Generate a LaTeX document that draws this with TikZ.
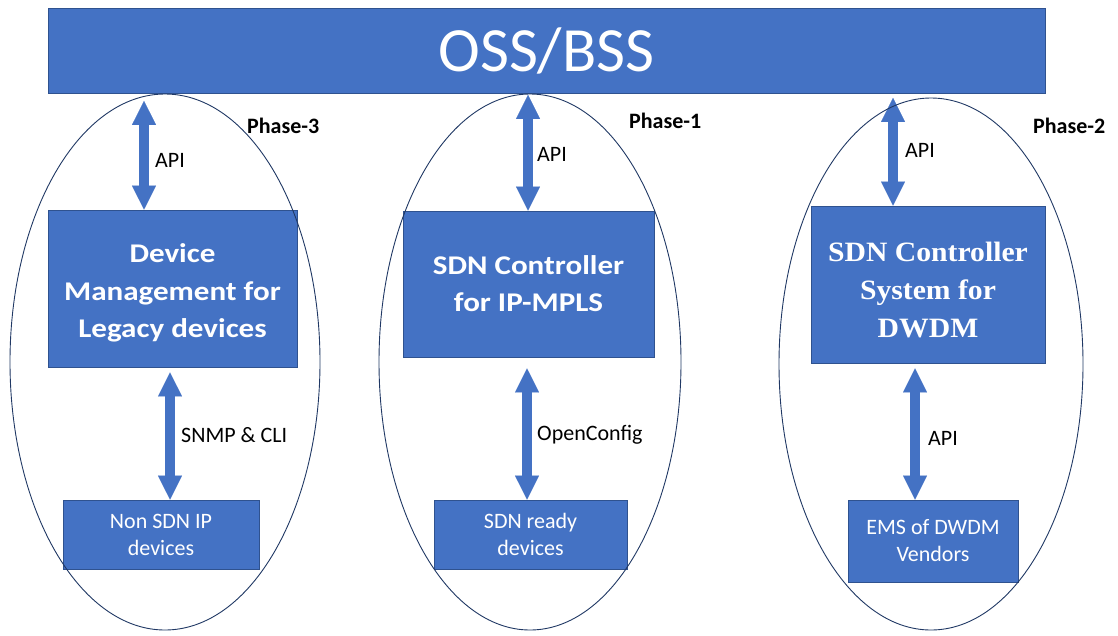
\documentclass[tikz,border=0pt]{standalone}
\usepackage{fontspec}
\setmainfont{Carlito}
\newfontfamily\widesans{Carlito}[FakeStretch=1.15]
\newfontfamily\wideserif{Liberation Serif}[FakeStretch=1.06]
\usetikzlibrary{arrows.meta}
\definecolor{boxblue}{HTML}{4472C4}
\definecolor{boxedge}{HTML}{2F528F}
\definecolor{ringblue}{HTML}{203864}
\newcommand*{\phase}[1]{\textbf{Phase-#1}}
\newcommand*{\lift}[1]{\rule{0pt}{#1}}

\begin{document}
\begin{tikzpicture}[x=1pt, y=-1pt]
        \useasboundingbox (0,0) rectangle (1118,635);

        % blocks
        {\tikzstyle{every node}=[draw=boxedge, fill=boxblue, text=white, align=center, inner sep=0pt, line width=0.8pt]
          \node[minimum width=997pt, minimum height=85pt, font=\fontsize{63}{70}\selectfont] (oss) at (546.5,51) {OSS/BSS};

          \node[minimum width=249pt, minimum height=157pt, font=\widesans\bfseries\fontsize{27}{37.5}\selectfont] (dm) at (172.5,288.5) {\lift{28pt}Device\\Management for\\Legacy devices};
          \node[minimum width=251pt, minimum height=146pt, font=\widesans\bfseries\fontsize{27}{37}\selectfont] (ipc) at (528.5,284) {SDN Controller\\for IP-MPLS};
          \node[minimum width=234pt, minimum height=157pt, font=\wideserif\bfseries\fontsize{28}{38}\selectfont] (dwc) at (928,284.5) {\lift{31pt}SDN Controller\\System for\\DWDM};

          \node[minimum width=196pt, minimum height=69pt, font=\fontsize{22}{27}\selectfont] (nonsdn) at (161,534.5) {Non SDN IP\\devices};
          \node[minimum width=193pt, minimum height=69pt, font=\fontsize{22}{27}\selectfont] (sdnready) at (530.5,534.5) {SDN ready\\devices};
          \node[minimum width=170pt, minimum height=82pt, font=\fontsize{22}{27}\selectfont] (ems) at (933,541) {EMS of DWDM\\Vendors};
        }

        % links
        \tikzstyle{link}=[boxblue, line width=10pt, {Triangle[width=24pt,length=24pt,line width=0.1pt]}-{Triangle[width=24pt,length=24pt,line width=0.1pt]}]
        \path ([xshift=-28.5pt]dm.north) coordinate (up1)
              ([xshift=-2.5pt]dm.south) coordinate (dn1)
              ([xshift=-0.5pt]ipc.north) coordinate (up2)
              ([xshift=-1.5pt]ipc.south) coordinate (dn2)
              ([xshift=-35pt]dwc.north) coordinate (up3)
              ([xshift=-13pt]dwc.south) coordinate (dn3);
        \draw[link, shorten >=7pt] (up1) -- (up1 |- oss.south);
        \draw[link, shorten <=5pt] (dn1) -- (dn1 |- nonsdn.north);
        \draw[link, shorten >=1pt] (up2) -- (up2 |- oss.south);
        \draw[link, shorten <=11pt] (dn2) -- (dn2 |- sdnready.north);
        \draw[link, shorten >=4pt] (up3) -- (up3 |- oss.south);
        \draw[link, shorten <=5pt] (dn3) -- (dn3 |- ems.north);

        % labels
        {\tikzstyle{every node}=[anchor=base west, inner sep=0pt, font=\fontsize{22}{26}\selectfont]
          \node (api1) at (155,167) {API};
          \node (snmp) at (181,442) {SNMP \& CLI};
          \node (api2) at (537,161) {API};
          \node (oconf) at (537,440) {OpenConfig};
          \node (api3) at (905,157) {API};
          \node (api4) at (928,445) {API};
          \node (ph3) at (247,133) {\phase{3}};
          \node (ph1) at (629,128) {\phase{1}};
          \node (ph2) at (1033,133) {\phase{2}};
        }

        % phases
        \foreach \cx/\cy/\rx/\ry in {165/362/155/268, 530/362/151/268, 931/364/152/266}
        {
          \draw[ringblue, line width=0.9pt] (\cx,\cy) ellipse [x radius=\rx, y radius=\ry];
        }
\end{tikzpicture}
\end{document}
